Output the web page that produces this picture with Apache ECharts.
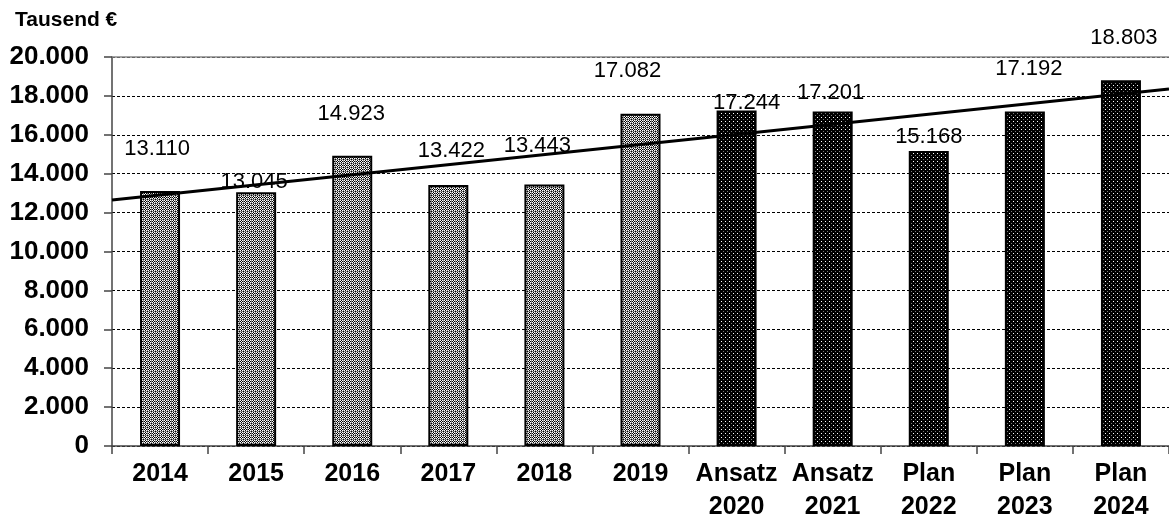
<!DOCTYPE html>
<html><head><meta charset="utf-8">
<script src="https://cdn.jsdelivr.net/npm/echarts@6/dist/echarts.min.js"></script>
<style>html,body{margin:0;padding:0;background:#fff}#c{width:1169px;height:518px}</style>
</head><body><div id="c"></div>
<script>
const categories = ['2014','2015','2016','2017','2018','2019','Ansatz\n2020','Ansatz\n2021','Plan\n2022','Plan\n2023','Plan\n2024'];
const values = [13110,13045,14923,13422,13443,17082,17244,17201,15168,17192,18803];
const isPlan = [false,false,false,false,false,false,true,true,true,true,true];
// trend line end values read at the left and right plot edges
const trendX = [-0.5, 10.5];
const trendY = [12650, 18350];
const yTicks = {min:0, max:20000, interval:2000};
// label layout (offset in px: [dx, dy])
const labelOffsets = [[-3,-23],[-2,9],[-1,-23],[3,-15],[-7,-20],[-13,-24],[10,11],[-2,0],[0,5],[4,-24],[3,-23]];

function makePattern(dark){
  const c=document.createElement('canvas');
  c.width=4;c.height=4;
  const x=c.getContext('2d');
  const px=(col,i,j)=>{x.fillStyle=col;x.fillRect(i,j,1,1);};
  if(dark){
    x.fillStyle='#000';x.fillRect(0,0,4,4);
    px('#ffffff',1,1);
    px('#7a7a7a',3,3);
  } else {
    const W='#ffffff',K='#000000',G='#8c8c8c';
    const rows=[[W,K,W,G],[K,W,K,G],[W,K,W,G],[G,G,G,K]];
    rows.forEach((r,j)=>r.forEach((col,i)=>px(col,i,j)));
  }
  return c;
}
const patLight = makePattern(false), patDark = makePattern(true);
const fmt = v => String(v).replace(/\B(?=(\d{3})+(?!\d))/g,'.');
const FONT = '"Liberation Sans", Arial, sans-serif';

const chart = echarts.init(document.getElementById('c'),null,{renderer:'canvas'});
chart.setOption({
  animation:false,
  grid:{left:112,right:0,top:57,bottom:72,containLabel:false,outerBoundsMode:'none'},
  graphic:[
    {type:'text',left:15,top:10,style:{text:'Tausend €',font:'bold 21px '+FONT,fill:'#000'}},
    {type:'line',shape:{x1:112,y1:57,x2:1169,y2:57},style:{stroke:'#888',lineWidth:1.5},z:10}
  ],
  xAxis:[{
    type:'category',data:categories,
    axisLine:{lineStyle:{color:'#444',width:1.5}},
    axisTick:{show:true,length:8,lineStyle:{color:'#444',width:1.5}},
    axisLabel:{color:'#000',fontFamily:FONT,fontWeight:'bold',fontSize:25,lineHeight:33,margin:12,interval:0}
  },{
    type:'value',min:-0.5,max:10.5,show:false
  }],
  yAxis:{
    type:'value',min:yTicks.min,max:yTicks.max,interval:yTicks.interval,
    axisLine:{show:true,onZero:false,lineStyle:{color:'#444',width:1.5}},
    axisTick:{show:true,length:8,lineStyle:{color:'#444',width:1.5}},
    axisLabel:{color:'#000',fontFamily:FONT,fontWeight:'bold',fontSize:26,margin:23,formatter:fmt},
    splitLine:{show:true,lineStyle:{color:'#000',type:[3,2],width:1}}
  },
  series:[{
    type:'bar',barWidth:40,
    data:values.map((v,i)=>({value:v,
      itemStyle:{color:{image:isPlan[i]?patDark:patLight,repeat:'repeat'},borderColor:'#000',borderWidth:2},
      label:{show:true,position:'top',distance:8,offset:labelOffsets[i],formatter:()=>fmt(v),
        color:'#000',fontSize:22,fontFamily:FONT}})),
    z:2
  },{
    type:'line',xAxisIndex:1,data:trendX.map((x,i)=>[x,trendY[i]]),
    symbol:'none',lineStyle:{color:'#000',width:3},z:3,silent:true
  }]
});
</script></body></html>
